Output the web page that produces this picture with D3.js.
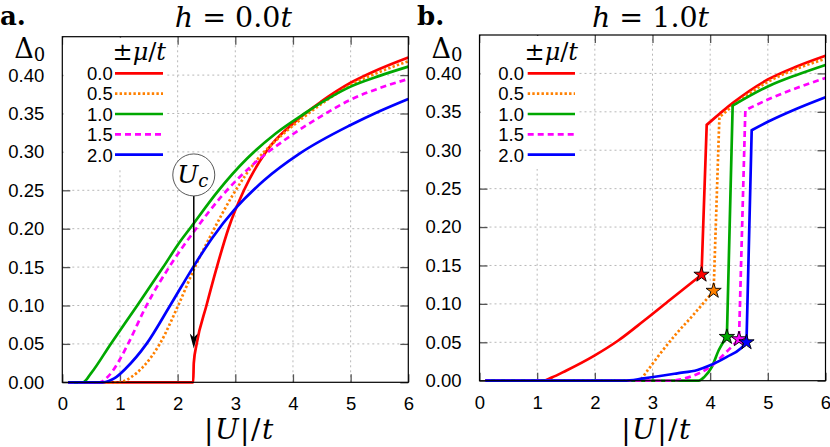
<!DOCTYPE html>
<html><head><meta charset="utf-8">
<script src="https://cdn.jsdelivr.net/npm/d3@7"></script>
<style>body{margin:0;background:#fff}svg{display:block}</style>
</head><body>
<svg id="c" width="830" height="447"></svg>
<script>
// ---------------- data ----------------
const muLabels = ["0.0", "0.5", "1.0", "1.5", "2.0"];
const xTicks = [0, 1, 2, 3, 4, 5, 6];
const yTicks = [0, 0.05, 0.10, 0.15, 0.20, 0.25, 0.30, 0.35, 0.40];
const yTickLabels = ["0.00", "0.05", "0.10", "0.15", "0.20", "0.25", "0.30", "0.35", "0.40"];
const panelTitles = ["0.0", "1.0"];
const panelLetters = ["a.", "b."];

// panel a : h = 0.0t   [|U|/t, Delta0]
const a_mu00 = [[0.1,0],[2.27,0],[2.28,0.025],[2.33,0.05],[2.5,0.10],[2.68,0.15],[2.88,0.20],[3.15,0.25],[3.53,0.30],[4.0,0.337],[4.5,0.366],[5.0,0.390],[5.5,0.408],[6.0,0.423]];
const a_mu05 = [[0.1,0],[0.97,0],[1.2,0.007],[1.4,0.02],[1.69,0.05],[2.01,0.10],[2.3,0.15],[2.6,0.195],[2.95,0.243],[3.38,0.29],[3.75,0.318],[4.2,0.346],[4.6,0.368],[5.0,0.387],[5.5,0.404],[6.0,0.418]];
const a_mu10 = [[0.1,0],[0.36,0],[0.5,0.012],[0.84,0.05],[1.3,0.10],[1.75,0.15],[2.04,0.183],[2.21,0.20],[2.7,0.249],[3.2,0.291],[3.7,0.324],[4.2,0.350],[4.6,0.369],[5.0,0.385],[5.5,0.399],[6.0,0.411]];
const a_mu15 = [[0.1,0],[0.65,0],[0.8,0.008],[1.0,0.03],[1.14,0.05],[1.46,0.10],[1.87,0.152],[2.3,0.198],[2.76,0.242],[3.3,0.283],[3.94,0.320],[4.5,0.347],[5.0,0.368],[5.5,0.383],[6.0,0.395]];
const a_mu20 = [[0.1,0],[0.7,0],[0.9,0.005],[1.1,0.018],[1.46,0.05],[1.87,0.10],[2.27,0.15],[2.6,0.188],[3.0,0.226],[3.5,0.263],[4.12,0.298],[5.0,0.335],[5.5,0.353],[6.0,0.369]];
const Uc = 2.28;

// panel b : h = 1.0t  (lower branch ends at the star, upper branch starts after the jump)
const b_mu00_low  = [[0.1,0],[1.1,0],[1.25,0.004],[1.5,0.013],[2.0,0.033],[2.4,0.052],[2.85,0.078],[3.3,0.105],[3.6,0.123],[3.85,0.138]];
const b_mu00_high = [[3.94,0.333],[4.4,0.362],[5.0,0.392],[5.5,0.409],[6.0,0.423]];
const b_mu05_low  = [[0.1,0],[2.76,0],[2.9,0.012],[3.1,0.032],[3.4,0.060],[3.7,0.085],[4.06,0.117]];
const b_mu05_high = [[4.16,0.343],[4.4,0.358],[5.0,0.389],[5.5,0.406],[6.0,0.419]];
const b_mu10_low  = [[0.1,0],[3.8,0],[3.9,0.005],[4.03,0.018],[4.15,0.040],[4.29,0.057]];
const b_mu10_high = [[4.39,0.358],[5.0,0.383],[5.5,0.398],[6.0,0.411]];
const b_mu15_low  = [[0.1,0],[3.3,0],[3.65,0.005],[4.0,0.018],[4.29,0.038],[4.5,0.054]];
const b_mu15_high = [[4.61,0.352],[5.0,0.366],[5.5,0.381],[6.0,0.394]];
const b_mu20_low  = [[0.1,0],[2.5,0],[2.85,0.003],[3.43,0.0096],[3.78,0.014],[4.0,0.020],[4.29,0.031],[4.53,0.042],[4.63,0.050]];
const b_mu20_high = [[4.72,0.326],[5.0,0.337],[5.5,0.354],[6.0,0.369]];

// ---------------- styles ----------------
const colors = ["#ff0000", "#ff8000", "#00a800", "#ff00ff", "#0000ff"];
const dashes = [null, "2.4,2.2", null, "6,4", null];
const serif = "'DejaVu Serif', 'Liberation Serif', serif";
const sans = "'Liberation Sans', Arial, sans-serif";

const svg = d3.select("#c");

const panels = [
  {x0: 62.3, x1: 408.3, y0: 382.3, y1: 36.7, legText: 112.7, legLine0: 115, legLine1: 163, legBoxR: 167,
   series: [a_mu00, a_mu05, a_mu10, a_mu15, a_mu20].map(d => ({low: d}))},
  {x0: 479.5, x1: 825.5, y0: 380.7, y1: 35, legText: 524, legLine0: 527.7, legLine1: 575, legBoxR: 579,
   series: [[b_mu00_low,b_mu00_high],[b_mu05_low,b_mu05_high],[b_mu10_low,b_mu10_high],[b_mu15_low,b_mu15_high],[b_mu20_low,b_mu20_high]].map(d => ({low: d[0], high: d[1]}))}
];

panels.forEach((p, pi) => {
  const x = d3.scaleLinear().domain([0, 6]).range([p.x0, p.x1]);
  const y = d3.scaleLinear().domain([0, 0.45]).range([p.y0, p.y1]);
  const g = svg.append("g");

  // grid
  const grid = g.append("g").attr("stroke", "#b8b8b8").attr("stroke-width", 1).attr("stroke-dasharray", "2,3");
  xTicks.slice(1, -1).forEach(t => grid.append("line").attr("x1", x(t)).attr("x2", x(t)).attr("y1", p.y0).attr("y2", p.y1));
  yTicks.slice(1).forEach(t => grid.append("line").attr("x1", p.x0).attr("x2", p.x1).attr("y1", y(t)).attr("y2", y(t)));

  // axes (ticks inward, mirrored)
  const tickLen = 8;
  const axB = d3.axisBottom(x).tickValues(xTicks).tickSize(-tickLen).tickPadding(tickLen + 7).tickFormat(d3.format("d"));
  const axT = d3.axisTop(x).tickValues(xTicks).tickSize(-tickLen).tickFormat("");
  const axL = d3.axisLeft(y).tickValues(yTicks).tickSize(-tickLen).tickPadding(tickLen + 10).tickFormat((d, i) => yTickLabels[i]);
  const axR = d3.axisRight(y).tickValues(yTicks).tickSize(-tickLen).tickFormat("");
  const axes = [
    g.append("g").attr("transform", `translate(0,${p.y0})`).call(axB),
    g.append("g").attr("transform", `translate(0,${p.y1})`).call(axT),
    g.append("g").attr("transform", `translate(${p.x0},0)`).call(axL),
    g.append("g").attr("transform", `translate(${p.x1},0)`).call(axR)
  ];
  axes.forEach(a => {
    a.select(".domain").remove();
    a.selectAll(".tick line").attr("stroke", "#555").attr("stroke-width", 1.3);
    a.selectAll("text").attr("font-family", sans).attr("font-size", 18.5).attr("fill", "#000");
  });

  // legend box hides the grid
  g.append("rect").attr("x", p.x0 + 1).attr("y", p.y1 + 1).attr("width", p.legBoxR - p.x0 - 1).attr("height", 168 - p.y1)
    .attr("fill", "#fff");

  // curves
  const lineM = d3.line().x(d => x(d[0])).y(d => y(d[1])).curve(d3.curveMonotoneX);
  p.series.forEach((s, i) => {
    let dstr = lineM(s.low);
    if (s.high) {
      dstr += lineM(s.high).replace(/^M/, "L");
    }
    const path = g.append("path").attr("d", dstr).attr("fill", "none").attr("stroke", colors[i])
      .attr("stroke-width", 2.7).attr("stroke-linejoin", "miter");
    if (dashes[i]) path.attr("stroke-dasharray", dashes[i]);
  });

  // stars at the jump (panel b)
  p.series.forEach((s, i) => {
    if (!s.high) return;
    const st = s.low[s.low.length - 1];
    g.append("path").attr("d", d3.symbol(d3.symbolStar, 72)())
      .attr("transform", `translate(${x(st[0])},${y(st[1])})`)
      .attr("fill", colors[i]).attr("stroke", "#000").attr("stroke-width", 0.9);
  });

  // frame
  g.append("rect").attr("x", p.x0).attr("y", p.y1).attr("width", p.x1 - p.x0).attr("height", p.y0 - p.y1)
    .attr("fill", "none").attr("stroke", "#000").attr("stroke-width", 1.2);

  // legend
  const leg = g.append("g");
  const t0 = leg.append("text").attr("x", p.legLine1 + 3).attr("y", 60).attr("text-anchor", "end")
    .attr("font-family", serif).attr("font-size", 24);
  t0.append("tspan").text("±");
  t0.append("tspan").attr("font-style", "italic").text("μ");
  t0.append("tspan").text("/");
  t0.append("tspan").attr("font-style", "italic").text("t");
  muLabels.forEach((m, i) => {
    const ly = 73.3 + i * 20.35;
    leg.append("text").attr("x", p.legText).attr("y", ly + 6.8).attr("text-anchor", "end")
      .attr("font-family", sans).attr("font-size", 18.5).text(m);
    const ln = leg.append("line").attr("x1", p.legLine0).attr("x2", p.legLine1).attr("y1", ly).attr("y2", ly)
      .attr("stroke", colors[i]).attr("stroke-width", 2.7);
    if (dashes[i]) ln.attr("stroke-dasharray", dashes[i]);
  });

  // y label Delta_0
  const yl = g.append("text").attr("x", p.x0 - 48).attr("y", 58).attr("font-family", serif).attr("font-size", 27);
  yl.append("tspan").text("Δ");
  yl.append("tspan").attr("font-size", 18).attr("dy", 3).text("0");

  // x label |U|/t
  const xl = g.append("text").attr("x", (p.x0 + p.x1) / 2 + 4).attr("y", 439).attr("text-anchor", "middle")
    .attr("font-family", serif).attr("font-size", 28).attr("letter-spacing", 1.5);
  xl.append("tspan").text("|");
  xl.append("tspan").attr("font-style", "italic").text("U");
  xl.append("tspan").text("|/");
  xl.append("tspan").attr("font-style", "italic").text("t");

  // title
  const tt = g.append("text").attr("x", (p.x0 + p.x1) / 2 - 2).attr("y", 27).attr("text-anchor", "middle")
    .attr("font-family", serif).attr("font-size", 28.5);
  tt.append("tspan").attr("font-style", "italic").text("h");
  tt.append("tspan").text(" = " + panelTitles[pi]);
  tt.append("tspan").attr("font-style", "italic").text("t");

  // panel letter
  g.append("text").attr("x", pi === 0 ? 0 : 417).attr("y", 25).attr("font-family", serif)
    .attr("font-weight", "bold").attr("font-size", 26).text(panelLetters[pi]);

  // U_c annotation (panel a)
  if (pi === 0) {
    const cx = x(Uc), cy = y(0.27), r = 21;
    const tip = y(0.044);
    g.append("line").attr("x1", cx).attr("x2", cx).attr("y1", cy + r).attr("y2", tip - 8)
      .attr("stroke", "#000").attr("stroke-width", 1.5);
    g.append("path").attr("d", `M${cx},${tip} L${cx - 4},${tip - 15} L${cx},${tip - 11} L${cx + 4},${tip - 15} Z`)
      .attr("fill", "#000");
    g.append("circle").attr("cx", cx).attr("cy", cy).attr("r", r).attr("fill", "#fff")
      .attr("stroke", "#444").attr("stroke-width", 0.9);
    const ut = g.append("text").attr("x", cx - 1).attr("y", cy + 8).attr("text-anchor", "middle")
      .attr("font-family", serif).attr("font-style", "italic").attr("font-size", 25);
    ut.append("tspan").text("U");
    ut.append("tspan").attr("font-size", 18).attr("dy", 4).text("c");
  }
});
</script>
</body></html>
